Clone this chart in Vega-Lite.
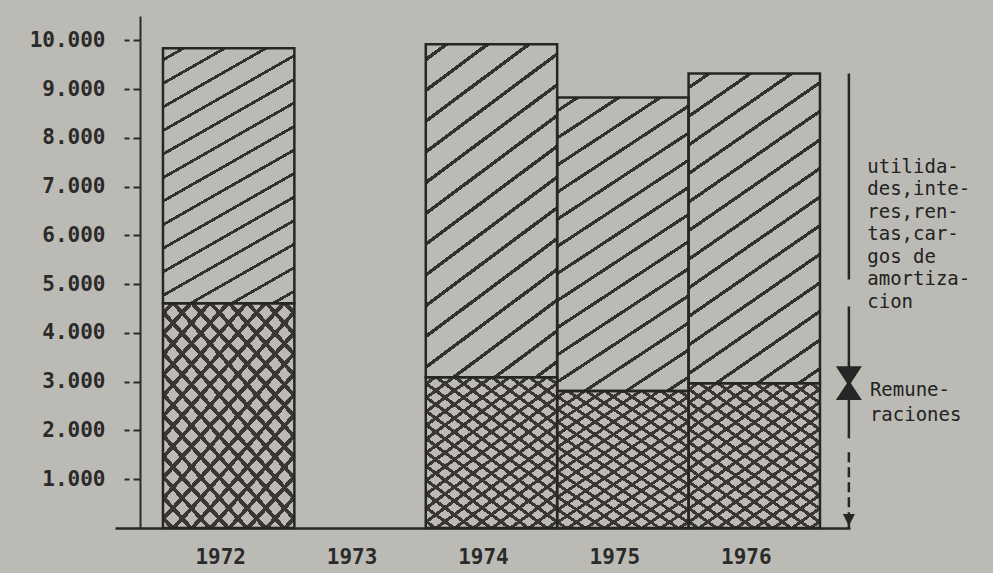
{
  "$schema": "https://vega.github.io/schema/vega-lite/v6.json",
  "width": 735,
  "height": 512,
  "autosize": {"type": "none"},
  "padding": {"left": 115, "top": 16, "right": 143, "bottom": 45},
  "background": "#bbbab4",
  "config": {"view": {"stroke": null}, "font": "DejaVu Sans Mono"},
  "data": {
    "values": [
      {"anio": "1972", "componente": "Remuneraciones", "valor": 4610},
      {"anio": "1972", "componente": "Utilidades", "valor": 5230},
      {"anio": "1974", "componente": "Remuneraciones", "valor": 3090},
      {"anio": "1974", "componente": "Utilidades", "valor": 6830},
      {"anio": "1975", "componente": "Remuneraciones", "valor": 2810},
      {"anio": "1975", "componente": "Utilidades", "valor": 6020},
      {"anio": "1976", "componente": "Remuneraciones", "valor": 2970},
      {"anio": "1976", "componente": "Utilidades", "valor": 6350}
    ]
  },
  "transform": [
    {"stack": "valor", "groupby": ["anio"], "sort": [{"field": "componente", "order": "ascending"}], "as": ["v0", "v1"]}
  ],
  "encoding": {
    "x": {
      "field": "anio",
      "type": "ordinal",
      "title": null,
      "scale": {"domain": ["1972", "1973", "1974", "1975", "1976"], "paddingInner": 0, "paddingOuter": 0.2968, "align": 0.615},
      "axis": {
        "title": null, "labelAngle": 0, "ticks": false, "domainColor": "#262626", "domainWidth": 2.5,
        "labelFont": "DejaVu Sans Mono", "labelFontSize": 21, "labelFontWeight": "bold", "labelColor": "#2a2a2a", "labelPadding": 18, "labelOffset": -8
      }
    }
  },
  "layer": [
    {
      "mark": {"type": "bar", "strokeWidth": 0},
      "encoding": {
        "y": {
          "field": "v1", "type": "quantitative", "title": null,
          "scale": {"domain": [0, 10500], "nice": false},
          "axis": {
            "title": null, "values": [1000, 2000, 3000, 4000, 5000, 6000, 7000, 8000, 9000, 10000],
            "labelExpr": "replace(format(datum.value, ','), ',', '.')",
            "offset": -25, "grid": false, "tickSize": 16, "tickDash": [7, 4, 6], "tickWidth": 2, "tickColor": "#2a2a2a",
            "domainColor": "#2a2a2a", "domainWidth": 2,
            "labelFont": "DejaVu Sans Mono", "labelFontSize": 21, "labelFontWeight": "bold", "labelColor": "#2a2a2a", "labelPadding": 19
          }
        },
        "y2": {"field": "v0"},
        "fill": {
          "condition": {
            "test": "datum.componente == 'Utilidades'",
            "value": {
              "gradient": "linear", "x1": 0, "y1": 0, "x2": 0.35, "y2": 1.19,
              "stops": [
                {"offset": 0.0307, "color": "rgba(0,0,0,0)"}, {"offset": 0.0307, "color": "#333130"}, {"offset": 0.0407, "color": "#333130"}, {"offset": 0.0407, "color": "rgba(0,0,0,0)"},
                {"offset": 0.1021, "color": "rgba(0,0,0,0)"}, {"offset": 0.1021, "color": "#333130"}, {"offset": 0.1121, "color": "#333130"}, {"offset": 0.1121, "color": "rgba(0,0,0,0)"},
                {"offset": 0.1736, "color": "rgba(0,0,0,0)"}, {"offset": 0.1736, "color": "#333130"}, {"offset": 0.1836, "color": "#333130"}, {"offset": 0.1836, "color": "rgba(0,0,0,0)"},
                {"offset": 0.245, "color": "rgba(0,0,0,0)"}, {"offset": 0.245, "color": "#333130"}, {"offset": 0.255, "color": "#333130"}, {"offset": 0.255, "color": "rgba(0,0,0,0)"},
                {"offset": 0.3164, "color": "rgba(0,0,0,0)"}, {"offset": 0.3164, "color": "#333130"}, {"offset": 0.3264, "color": "#333130"}, {"offset": 0.3264, "color": "rgba(0,0,0,0)"},
                {"offset": 0.3879, "color": "rgba(0,0,0,0)"}, {"offset": 0.3879, "color": "#333130"}, {"offset": 0.3979, "color": "#333130"}, {"offset": 0.3979, "color": "rgba(0,0,0,0)"},
                {"offset": 0.4593, "color": "rgba(0,0,0,0)"}, {"offset": 0.4593, "color": "#333130"}, {"offset": 0.4693, "color": "#333130"}, {"offset": 0.4693, "color": "rgba(0,0,0,0)"},
                {"offset": 0.5307, "color": "rgba(0,0,0,0)"}, {"offset": 0.5307, "color": "#333130"}, {"offset": 0.5407, "color": "#333130"}, {"offset": 0.5407, "color": "rgba(0,0,0,0)"},
                {"offset": 0.6021, "color": "rgba(0,0,0,0)"}, {"offset": 0.6021, "color": "#333130"}, {"offset": 0.6121, "color": "#333130"}, {"offset": 0.6121, "color": "rgba(0,0,0,0)"},
                {"offset": 0.6736, "color": "rgba(0,0,0,0)"}, {"offset": 0.6736, "color": "#333130"}, {"offset": 0.6836, "color": "#333130"}, {"offset": 0.6836, "color": "rgba(0,0,0,0)"},
                {"offset": 0.745, "color": "rgba(0,0,0,0)"}, {"offset": 0.745, "color": "#333130"}, {"offset": 0.755, "color": "#333130"}, {"offset": 0.755, "color": "rgba(0,0,0,0)"},
                {"offset": 0.8164, "color": "rgba(0,0,0,0)"}, {"offset": 0.8164, "color": "#333130"}, {"offset": 0.8264, "color": "#333130"}, {"offset": 0.8264, "color": "rgba(0,0,0,0)"},
                {"offset": 0.8879, "color": "rgba(0,0,0,0)"}, {"offset": 0.8879, "color": "#333130"}, {"offset": 0.8979, "color": "#333130"}, {"offset": 0.8979, "color": "rgba(0,0,0,0)"},
                {"offset": 0.9593, "color": "rgba(0,0,0,0)"}, {"offset": 0.9593, "color": "#333130"}, {"offset": 0.9693, "color": "#333130"}, {"offset": 0.9693, "color": "rgba(0,0,0,0)"}
              ]
            }
          },
          "value": {
            "gradient": "linear", "x1": 0, "y1": 0, "x2": 0.751, "y2": 1.161,
            "stops": [
              {"offset": 0.0198, "color": "rgba(0,0,0,0)"}, {"offset": 0.0198, "color": "#3a3735"}, {"offset": 0.0358, "color": "#3a3735"}, {"offset": 0.0358, "color": "rgba(0,0,0,0)"},
              {"offset": 0.0753, "color": "rgba(0,0,0,0)"}, {"offset": 0.0753, "color": "#3a3735"}, {"offset": 0.0913, "color": "#3a3735"}, {"offset": 0.0913, "color": "rgba(0,0,0,0)"},
              {"offset": 0.1309, "color": "rgba(0,0,0,0)"}, {"offset": 0.1309, "color": "#3a3735"}, {"offset": 0.1469, "color": "#3a3735"}, {"offset": 0.1469, "color": "rgba(0,0,0,0)"},
              {"offset": 0.1864, "color": "rgba(0,0,0,0)"}, {"offset": 0.1864, "color": "#3a3735"}, {"offset": 0.2024, "color": "#3a3735"}, {"offset": 0.2024, "color": "rgba(0,0,0,0)"},
              {"offset": 0.242, "color": "rgba(0,0,0,0)"}, {"offset": 0.242, "color": "#3a3735"}, {"offset": 0.258, "color": "#3a3735"}, {"offset": 0.258, "color": "rgba(0,0,0,0)"},
              {"offset": 0.2976, "color": "rgba(0,0,0,0)"}, {"offset": 0.2976, "color": "#3a3735"}, {"offset": 0.3136, "color": "#3a3735"}, {"offset": 0.3136, "color": "rgba(0,0,0,0)"},
              {"offset": 0.3531, "color": "rgba(0,0,0,0)"}, {"offset": 0.3531, "color": "#3a3735"}, {"offset": 0.3691, "color": "#3a3735"}, {"offset": 0.3691, "color": "rgba(0,0,0,0)"},
              {"offset": 0.4087, "color": "rgba(0,0,0,0)"}, {"offset": 0.4087, "color": "#3a3735"}, {"offset": 0.4247, "color": "#3a3735"}, {"offset": 0.4247, "color": "rgba(0,0,0,0)"},
              {"offset": 0.4642, "color": "rgba(0,0,0,0)"}, {"offset": 0.4642, "color": "#3a3735"}, {"offset": 0.4802, "color": "#3a3735"}, {"offset": 0.4802, "color": "rgba(0,0,0,0)"},
              {"offset": 0.5198, "color": "rgba(0,0,0,0)"}, {"offset": 0.5198, "color": "#3a3735"}, {"offset": 0.5358, "color": "#3a3735"}, {"offset": 0.5358, "color": "rgba(0,0,0,0)"},
              {"offset": 0.5753, "color": "rgba(0,0,0,0)"}, {"offset": 0.5753, "color": "#3a3735"}, {"offset": 0.5913, "color": "#3a3735"}, {"offset": 0.5913, "color": "rgba(0,0,0,0)"},
              {"offset": 0.6309, "color": "rgba(0,0,0,0)"}, {"offset": 0.6309, "color": "#3a3735"}, {"offset": 0.6469, "color": "#3a3735"}, {"offset": 0.6469, "color": "rgba(0,0,0,0)"},
              {"offset": 0.6864, "color": "rgba(0,0,0,0)"}, {"offset": 0.6864, "color": "#3a3735"}, {"offset": 0.7024, "color": "#3a3735"}, {"offset": 0.7024, "color": "rgba(0,0,0,0)"},
              {"offset": 0.742, "color": "rgba(0,0,0,0)"}, {"offset": 0.742, "color": "#3a3735"}, {"offset": 0.758, "color": "#3a3735"}, {"offset": 0.758, "color": "rgba(0,0,0,0)"},
              {"offset": 0.7976, "color": "rgba(0,0,0,0)"}, {"offset": 0.7976, "color": "#3a3735"}, {"offset": 0.8136, "color": "#3a3735"}, {"offset": 0.8136, "color": "rgba(0,0,0,0)"},
              {"offset": 0.8531, "color": "rgba(0,0,0,0)"}, {"offset": 0.8531, "color": "#3a3735"}, {"offset": 0.8691, "color": "#3a3735"}, {"offset": 0.8691, "color": "rgba(0,0,0,0)"},
              {"offset": 0.9087, "color": "rgba(0,0,0,0)"}, {"offset": 0.9087, "color": "#3a3735"}, {"offset": 0.9247, "color": "#3a3735"}, {"offset": 0.9247, "color": "rgba(0,0,0,0)"},
              {"offset": 0.9642, "color": "rgba(0,0,0,0)"}, {"offset": 0.9642, "color": "#3a3735"}, {"offset": 0.9802, "color": "#3a3735"}, {"offset": 0.9802, "color": "rgba(0,0,0,0)"}
            ]
          }
        }
      }
    },
    {
      "transform": [{"filter": "datum.componente == 'Remuneraciones'"}],
      "mark": {
        "type": "bar", "strokeWidth": 0,
        "fill": {
          "gradient": "linear", "x1": 1, "y1": 0, "x2": 0.249, "y2": 1.161,
          "stops": [
            {"offset": 0.0198, "color": "rgba(0,0,0,0)"}, {"offset": 0.0198, "color": "#3a3735"}, {"offset": 0.0358, "color": "#3a3735"}, {"offset": 0.0358, "color": "rgba(0,0,0,0)"},
            {"offset": 0.0753, "color": "rgba(0,0,0,0)"}, {"offset": 0.0753, "color": "#3a3735"}, {"offset": 0.0913, "color": "#3a3735"}, {"offset": 0.0913, "color": "rgba(0,0,0,0)"},
            {"offset": 0.1309, "color": "rgba(0,0,0,0)"}, {"offset": 0.1309, "color": "#3a3735"}, {"offset": 0.1469, "color": "#3a3735"}, {"offset": 0.1469, "color": "rgba(0,0,0,0)"},
            {"offset": 0.1864, "color": "rgba(0,0,0,0)"}, {"offset": 0.1864, "color": "#3a3735"}, {"offset": 0.2024, "color": "#3a3735"}, {"offset": 0.2024, "color": "rgba(0,0,0,0)"},
            {"offset": 0.242, "color": "rgba(0,0,0,0)"}, {"offset": 0.242, "color": "#3a3735"}, {"offset": 0.258, "color": "#3a3735"}, {"offset": 0.258, "color": "rgba(0,0,0,0)"},
            {"offset": 0.2976, "color": "rgba(0,0,0,0)"}, {"offset": 0.2976, "color": "#3a3735"}, {"offset": 0.3136, "color": "#3a3735"}, {"offset": 0.3136, "color": "rgba(0,0,0,0)"},
            {"offset": 0.3531, "color": "rgba(0,0,0,0)"}, {"offset": 0.3531, "color": "#3a3735"}, {"offset": 0.3691, "color": "#3a3735"}, {"offset": 0.3691, "color": "rgba(0,0,0,0)"},
            {"offset": 0.4087, "color": "rgba(0,0,0,0)"}, {"offset": 0.4087, "color": "#3a3735"}, {"offset": 0.4247, "color": "#3a3735"}, {"offset": 0.4247, "color": "rgba(0,0,0,0)"},
            {"offset": 0.4642, "color": "rgba(0,0,0,0)"}, {"offset": 0.4642, "color": "#3a3735"}, {"offset": 0.4802, "color": "#3a3735"}, {"offset": 0.4802, "color": "rgba(0,0,0,0)"},
            {"offset": 0.5198, "color": "rgba(0,0,0,0)"}, {"offset": 0.5198, "color": "#3a3735"}, {"offset": 0.5358, "color": "#3a3735"}, {"offset": 0.5358, "color": "rgba(0,0,0,0)"},
            {"offset": 0.5753, "color": "rgba(0,0,0,0)"}, {"offset": 0.5753, "color": "#3a3735"}, {"offset": 0.5913, "color": "#3a3735"}, {"offset": 0.5913, "color": "rgba(0,0,0,0)"},
            {"offset": 0.6309, "color": "rgba(0,0,0,0)"}, {"offset": 0.6309, "color": "#3a3735"}, {"offset": 0.6469, "color": "#3a3735"}, {"offset": 0.6469, "color": "rgba(0,0,0,0)"},
            {"offset": 0.6864, "color": "rgba(0,0,0,0)"}, {"offset": 0.6864, "color": "#3a3735"}, {"offset": 0.7024, "color": "#3a3735"}, {"offset": 0.7024, "color": "rgba(0,0,0,0)"},
            {"offset": 0.742, "color": "rgba(0,0,0,0)"}, {"offset": 0.742, "color": "#3a3735"}, {"offset": 0.758, "color": "#3a3735"}, {"offset": 0.758, "color": "rgba(0,0,0,0)"},
            {"offset": 0.7976, "color": "rgba(0,0,0,0)"}, {"offset": 0.7976, "color": "#3a3735"}, {"offset": 0.8136, "color": "#3a3735"}, {"offset": 0.8136, "color": "rgba(0,0,0,0)"},
            {"offset": 0.8531, "color": "rgba(0,0,0,0)"}, {"offset": 0.8531, "color": "#3a3735"}, {"offset": 0.8691, "color": "#3a3735"}, {"offset": 0.8691, "color": "rgba(0,0,0,0)"},
            {"offset": 0.9087, "color": "rgba(0,0,0,0)"}, {"offset": 0.9087, "color": "#3a3735"}, {"offset": 0.9247, "color": "#3a3735"}, {"offset": 0.9247, "color": "rgba(0,0,0,0)"},
            {"offset": 0.9642, "color": "rgba(0,0,0,0)"}, {"offset": 0.9642, "color": "#3a3735"}, {"offset": 0.9802, "color": "#3a3735"}, {"offset": 0.9802, "color": "rgba(0,0,0,0)"}
          ]
        }
      },
      "encoding": {
        "y": {"field": "v1", "type": "quantitative", "title": null},
        "y2": {"field": "v0"}
      }
    },
    {
      "mark": {"type": "bar", "fill": "transparent", "stroke": "#262626", "strokeWidth": 2.5},
      "encoding": {
        "y": {"field": "v1", "type": "quantitative", "title": null},
        "y2": {"field": "v0"}
      }
    },
    {
      "transform": [{"filter": "datum.anio == '1976'"}],
      "mark": {"type": "rule", "color": "#262626", "strokeWidth": 2.5},
      "encoding": {
        "x": {"field": "anio", "type": "ordinal", "bandPosition": 1.22, "title": null},
        "y": {"field": "v1", "type": "quantitative", "title": null},
        "y2": {"field": "v0"},
        "strokeDash": {
          "field": "componente", "type": "nominal",
          "scale": {"domain": ["Remuneraciones", "Utilidades"], "range": [[55, 14, 10, 5, 10, 5, 10, 5, 10, 5], [206, 27, 400, 0]]},
          "legend": null
        }
      }
    },
    {
      "transform": [{"filter": "datum.anio == '1976' && datum.componente == 'Remuneraciones'"}],
      "mark": {"type": "point", "filled": true, "opacity": 1, "color": "#262626", "size": 676,
               "shape": "M-1,-1.3L1,-1.3L0.15,0L1,1.3L-1,1.3L-0.15,0Z"},
      "encoding": {
        "x": {"field": "anio", "type": "ordinal", "bandPosition": 1.22, "title": null},
        "y": {"field": "v1", "type": "quantitative", "title": null}
      }
    },
    {
      "transform": [{"filter": "datum.anio == '1976' && datum.componente == 'Remuneraciones'"}],
      "mark": {"type": "point", "filled": true, "opacity": 1, "color": "#262626", "size": 144, "yOffset": -8,
               "shape": "M-1,-1L1,-1L0,1Z"},
      "encoding": {
        "x": {"field": "anio", "type": "ordinal", "bandPosition": 1.22, "title": null},
        "y": {"field": "v0", "type": "quantitative", "title": null}
      }
    },
    {
      "transform": [{"filter": "datum.anio == '1976' && datum.componente == 'Utilidades'"}],
      "mark": {"type": "text", "align": "left", "baseline": "middle", "fontSize": 19, "lineHeight": 22.5,
               "font": "DejaVu Sans Mono", "color": "#222222"},
      "encoding": {
        "x": {"field": "anio", "type": "ordinal", "bandPosition": 1.36, "title": null},
        "y": {"datum": 7404, "type": "quantitative", "title": null},
        "text": {"value": ["utilida-", "des,inte-", "res,ren-", "tas,car-", "gos de", "amortiza-", "cion"]}
      }
    },
    {
      "transform": [{"filter": "datum.anio == '1976' && datum.componente == 'Remuneraciones'"}],
      "mark": {"type": "text", "align": "left", "baseline": "middle", "fontSize": 19, "lineHeight": 25,
               "font": "DejaVu Sans Mono", "color": "#222222"},
      "encoding": {
        "x": {"field": "anio", "type": "ordinal", "bandPosition": 1.38, "title": null},
        "y": {"datum": 2830, "type": "quantitative", "title": null},
        "text": {"value": ["Remune-", "raciones"]}
      }
    }
  ]
}
